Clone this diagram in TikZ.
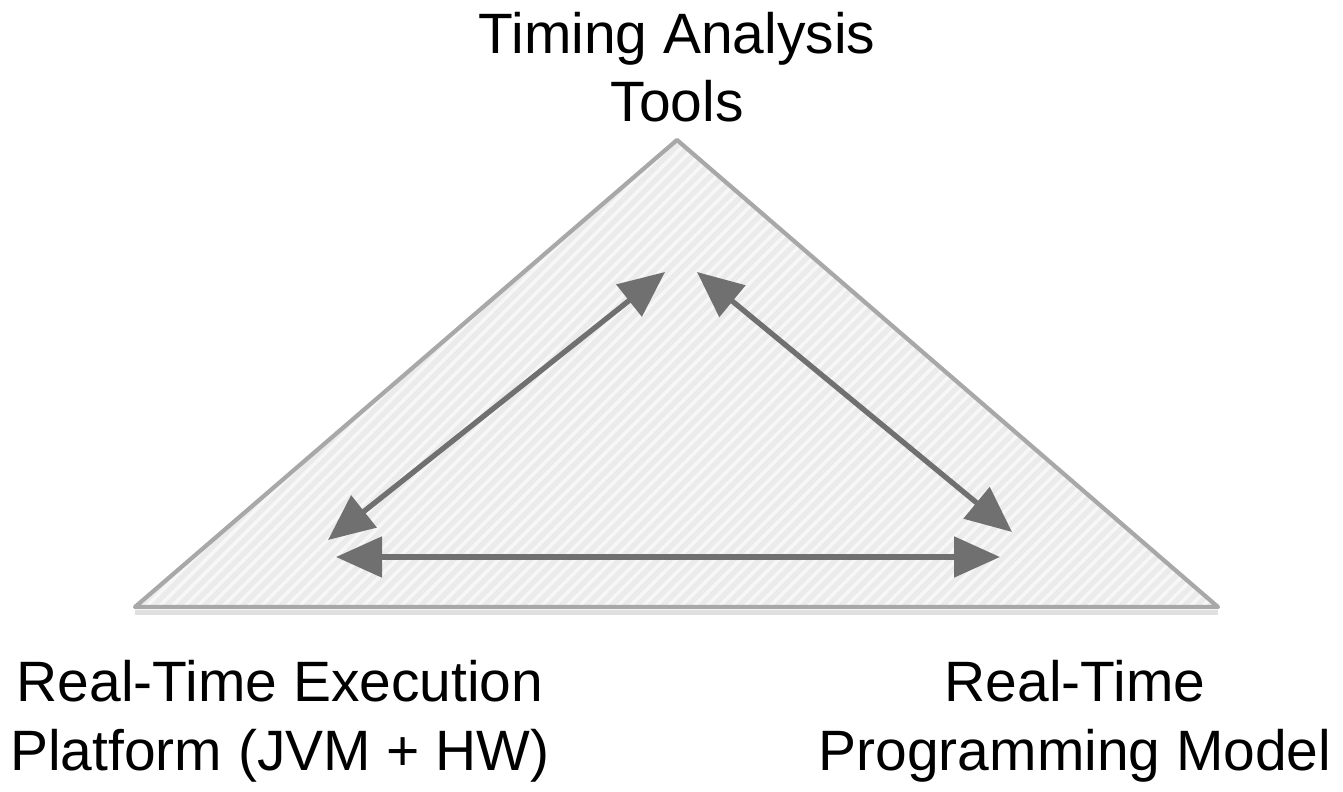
\documentclass[tikz,border=0pt]{standalone}
\usepackage{fontspec}
\setmainfont{Liberation Sans}
\usepackage{tikz}
\usetikzlibrary{arrows.meta, patterns.meta, shadows, positioning}
\definecolor{arrowgray}{HTML}{707070}
\definecolor{edgegray}{HTML}{A8A8A8}
\definecolor{facegray}{HTML}{EBEBEB}
\tikzset{label/.style={font=\fontsize{16.2}{19.5}\selectfont, align=center, inner sep=0pt},
	link/.style={arrowgray, line width=1.5pt, {Triangle[length=0.46cm,width=0.40cm]}-{Triangle[length=0.46cm,width=0.40cm]}}}

\begin{document}
\begin{tikzpicture}
		\useasboundingbox (0,0) rectangle (13.43,7.91);
		% corners of the triangle
		\coordinate (top) at (6.77,6.51);
		\coordinate (left) at (1.35,1.84);
		\coordinate (right) at (12.18,1.84);
		\fill[black, opacity=0.12] ([yshift=-0.08cm]left) -- ([yshift=-0.08cm]right) -- ([yshift=-0.03cm]right) -- ([yshift=-0.03cm]left) -- cycle;
		\fill[facegray] (top) -- (left) -- (right) -- cycle;
		\fill[pattern={Lines[angle=45,distance=0.09cm,line width=0.035cm]}, pattern color=white, opacity=0.6] (top) -- (left) -- (right) -- cycle;
		\draw[edgegray, line width=1.2pt, line join=round] (top) -- (left) -- (right) -- cycle;
		% arrow ends
		\coordinate (lt) at (6.65,5.19);
		\coordinate (lb) at (3.28,2.51);
		\coordinate (rt) at (6.97,5.19);
		\coordinate (rb) at (10.12,2.59);
		\coordinate (bl) at (3.36,2.34);
		\coordinate (br) at (10.00,2.34);
		\draw[link] (lb) -- (lt);
		\draw[link] (rt) -- (rb);
		\draw[link] (bl) -- (br);
		% labels
		\node[label, anchor=base] (tools) at (6.77,6.69) {Timing Analysis\\Tools};
		\node[label, anchor=base] (platform) at (2.80,0.21) {Real-Time Execution\\Platform (JVM + HW)};
		\node[label, anchor=base] (model) at (10.75,0.21) {Real-Time\\Programming Model};
	\end{tikzpicture}
\end{document}
